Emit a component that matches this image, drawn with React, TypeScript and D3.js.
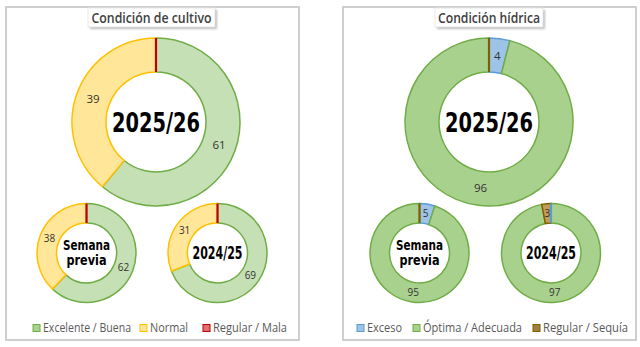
import React from "react";
import * as d3 from "d3";

const cultivoCategories = ["Excelente / Buena", "Normal", "Regular / Mala"];
const cultivoActual = [61, 39, 0];
const cultivoPrevia = [62, 38, 0];
const cultivoAnterior = [69, 31, 0];

const hidricaCategories = ["Exceso", "Óptima / Adecuada", "Regular / Sequía"];
const hidricaActual = [4, 96, 0];
const hidricaPrevia = [5, 95, 0];
const hidricaAnterior = [0, 97, 3];

const donutLabels = ["2025/26", "Semana previa", "2024/25"];

// layout (not data)
const cultivoLegendWidths = [88, 38, 74];
const hidricaLegendWidths = [35, 99, 85];

const cultivoFill = ["#c5e0b4", "#ffe699", "#c00000"];
const cultivoStroke = ["#70ad47", "#ffc000", "#c00000"];
const hidricaFillOrdered = ["#9dc3e6", "#a9d18e", "#c29d55"];
const hidricaStroke = ["#5b9bd5", "#70ad47", "#7f6000"];

type DonutProps = {
  cx: number; cy: number; ro: number; ri: number;
  values: number[]; fills: string[]; strokes: string[];
  center: string; centerSize: number; centerW: number[]; fontSize: number; lineGap: number;
};

function Donut({ cx, cy, ro, ri, values, fills, strokes, center, centerSize, centerW, fontSize, lineGap }: DonutProps) {
  const pie = d3.pie<number>().sort(null).value((d) => d);
  const arcs = pie(values);
  const arc = d3.arc<d3.PieArcDatum<number>>().innerRadius(ri).outerRadius(ro);
  const order = arcs.map((a, i) => i).sort((a, b) => (values[a] === 0 ? 1 : 0) - (values[b] === 0 ? 1 : 0));
  const lines = center.split(" ");
  return (
    <g transform={`translate(${cx},${cy})`}>
      {order.map((i) => {
        const a = arcs[i];
        return (
          <path key={i} d={arc(a) || ""} fill={fills[i]} stroke={strokes[i]}
            strokeWidth={values[i] === 0 ? 2.2 : 1.5} strokeLinejoin="miter" />
        );
      })}
      {arcs.map((a, i) =>
        values[i] > 0 ? (
          <text key={"l" + i} x={arc.centroid(a)[0]} y={arc.centroid(a)[1]} dy="0.35em"
            textAnchor="middle" fontFamily="Open Sans, sans-serif" fontSize={fontSize}
            fill="#333">{values[i]}</text>
        ) : null
      )}
      {lines.map((l, k) => (
        <text key={k} x={0} y={(k - (lines.length - 1) / 2) * lineGap} dy="0.36em"
          textAnchor="middle" fontFamily="DejaVu Sans Condensed, DejaVu Sans, sans-serif"
          fontWeight="bold" fontSize={centerSize} fill="#000"
          textLength={centerW[k]} lengthAdjust="spacingAndGlyphs">{l}</text>
      ))}
    </g>
  );
}

type PanelProps = {
  x: number; title: string; titleW: number; titleX: number; titleTextW: number;
  data: number[][]; fills: string[]; strokes: string[]; categories: string[];
  bigCx: number; smallCx: number[]; legendX: number[]; legendW: number[];
  legendColors: string[]; legendStroke: string[];
};

function Panel({ x, title, titleW, titleX, titleTextW, data, fills, strokes, categories, bigCx, smallCx, legendX, legendW, legendColors, legendStroke }: PanelProps) {
  return (
    <g>
      <rect x={x} y={7} width={293} height={333} fill="#fff" stroke="#cfcfcf" strokeWidth={2} />
      <Donut cx={bigCx} cy={122} ro={84} ri={50} values={data[0]} fills={fills} strokes={strokes}
        center={donutLabels[0]} centerSize={27} centerW={[88]} fontSize={11.5} lineGap={0} />
      <Donut cx={smallCx[0]} cy={253} ro={49.5} ri={30} values={data[1]} fills={fills} strokes={strokes}
        center={donutLabels[1]} centerSize={13.5} centerW={[47, 40]} fontSize={10} lineGap={15} />
      <Donut cx={smallCx[1]} cy={253} ro={49.5} ri={30} values={data[2]} fills={fills} strokes={strokes}
        center={donutLabels[2]} centerSize={17.5} centerW={[50]} fontSize={10} lineGap={0} />
      <rect x={titleX + 2} y={10} width={titleW} height={19} fill="#bdbdbd" filter="url(#blur)" />
      <rect x={titleX} y={8} width={titleW} height={19} fill="#fff" stroke="#e4e4e4" strokeWidth={0.8} />
      <text x={titleX + titleW / 2} y={22.5} textAnchor="middle" fontFamily="Open Sans, sans-serif"
        fontWeight="600" fontSize={13.5} fill="#404040" textLength={titleTextW}
        lengthAdjust="spacingAndGlyphs">{title}</text>
      {categories.map((c, i) => (
        <g key={c}>
          <rect x={legendX[i]} y={324.5} width={7} height={7} fill={legendColors[i]} stroke={legendStroke[i]} strokeWidth={1} />
          <text x={legendX[i] + 10} y={332} fontFamily="Open Sans, sans-serif" fontSize={12}
            fill="#595959" textLength={legendW[i]} lengthAdjust="spacingAndGlyphs">{c}</text>
        </g>
      ))}
    </g>
  );
}

export default function App() {
  return (
    <svg width={640} height={347} style={{ position: "absolute", left: 0, top: 0, background: "#fff" }}>
      <defs>
        <filter id="blur" x="-20%" y="-50%" width="140%" height="200%">
          <feGaussianBlur stdDeviation="1.2" />
        </filter>
      </defs>
      <rect x={0} y={0} width={640} height={347} fill="#fff" />
      <Panel x={6} title="Condición de cultivo" titleW={127} titleX={88} titleTextW={120}
        data={[cultivoActual, cultivoPrevia, cultivoAnterior]}
        fills={cultivoFill} strokes={cultivoStroke} categories={cultivoCategories}
        bigCx={156} smallCx={[86.5, 217.5]} legendX={[33, 140, 203]} legendW={cultivoLegendWidths}
        legendColors={cultivoFill.map((c, i) => (i === 0 ? "#a9d18e" : i === 2 ? "#e07070" : c))}
        legendStroke={cultivoStroke} />
      <Panel x={343} title="Condición hídrica" titleW={108} titleX={435} titleTextW={102}
        data={[hidricaActual, hidricaPrevia, hidricaAnterior]}
        fills={hidricaFillOrdered} strokes={hidricaStroke} categories={hidricaCategories}
        bigCx={489} smallCx={[419.5, 551]} legendX={[357, 413, 533]} legendW={hidricaLegendWidths}
        legendColors={hidricaFillOrdered.map((c, i) => (i === 2 ? "#a08040" : c))}
        legendStroke={hidricaStroke} />
    </svg>
  );
}
